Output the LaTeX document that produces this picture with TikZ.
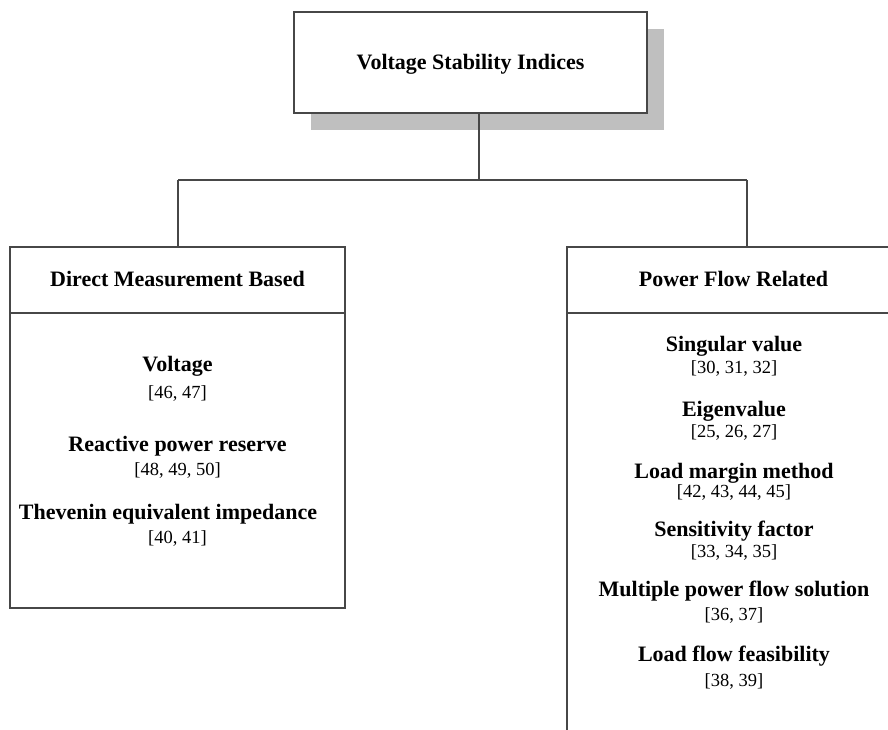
\documentclass[tikz,border=0pt]{standalone}
\usepackage{fontspec}
\setmainfont{Liberation Serif}
\usetikzlibrary{shadows}
\tikzset{
  ln/.style={draw=black!72, line width=1.5pt},
  box/.style={ln, rectangle, fill=white, inner sep=0pt},
  ttl/.style={font=\fontsize{22}{24}\selectfont\bfseries, anchor=base, inner sep=0pt},
  rf/.style={font=\fontsize{18.5}{20}\selectfont, anchor=base, inner sep=0pt},
  shad/.style={drop shadow={shadow xshift=17pt, shadow yshift=-17pt, fill=black!25, opacity=1}}
}
\begin{document}
\begin{tikzpicture}[x=1pt,y=1pt]
\clip (0,0) rectangle (888,-729);
\fill[white] (0,0) rectangle (888,-729);
% top box
\node[box, shad, minimum width=353pt, minimum height=101pt] (top) at (470.5,-62.5) {};
\node[ttl] (toptxt) at (470.5,-69) {Voltage Stability Indices};
% left branch
\node[box, minimum width=335pt, minimum height=66pt] (lh) at (177.5,-280) {};
\node[box, minimum width=335pt, minimum height=295pt] (lb) at (177.5,-460.5) {};
% right branch
\node[box, minimum width=335pt, minimum height=66pt] (rh) at (734.5,-280) {};
\node[box, minimum width=335pt, minimum height=460pt] (rb) at (734.5,-543) {};
% connectors
\coordinate (jn) at (479,-180);
\coordinate (jl) at (178,-180);
\coordinate (jr) at (747,-180);
\draw[ln] (top.south -| jn) -- (jn);
\draw[ln] (jl) -- (jr);
\draw[ln] (jl) -- (jl |- lh.north);
\draw[ln] (jr) -- (jr |- rh.north);
% headers
\node[ttl] (lht) at (177.5,-286.7) {Direct Measurement Based};
\node[ttl] (rht) at (733.5,-286.7) {Power Flow Related};
% left items
\node[ttl] (l1) at (177.5,-371.7) {Voltage};
\node[rf]  (l1r) at (177.5,-398) {[46, 47]};
\node[ttl] (l2) at (177.5,-451.7) {Reactive power reserve};
\node[rf]  (l2r) at (177.5,-475) {[48, 49, 50]};
\node[ttl] (l3) at (168,-519) {Thevenin equivalent impedance};
\node[rf]  (l3r) at (177.5,-543) {[40, 41]};
% right items
\node[ttl] (r1) at (734,-351.7) {Singular value};
\node[rf]  (r1r) at (734,-373) {[30, 31, 32]};
\node[ttl] (r2) at (734,-416.7) {Eigenvalue};
\node[rf]  (r2r) at (734,-437.7) {[25, 26, 27]};
\node[ttl] (r3) at (734,-478.3) {Load margin method};
\node[rf]  (r3r) at (734,-497.3) {[42, 43, 44, 45]};
\node[ttl] (r4) at (734,-536) {Sensitivity factor};
\node[rf]  (r4r) at (734,-557.7) {[33, 34, 35]};
\node[ttl] (r5) at (734,-596) {Multiple power flow solution};
\node[rf]  (r5r) at (734,-620) {[36, 37]};
\node[ttl] (r6) at (734,-661.7) {Load flow feasibility};
\node[rf]  (r6r) at (734,-686.7) {[38, 39]};
\end{tikzpicture}
\end{document}
